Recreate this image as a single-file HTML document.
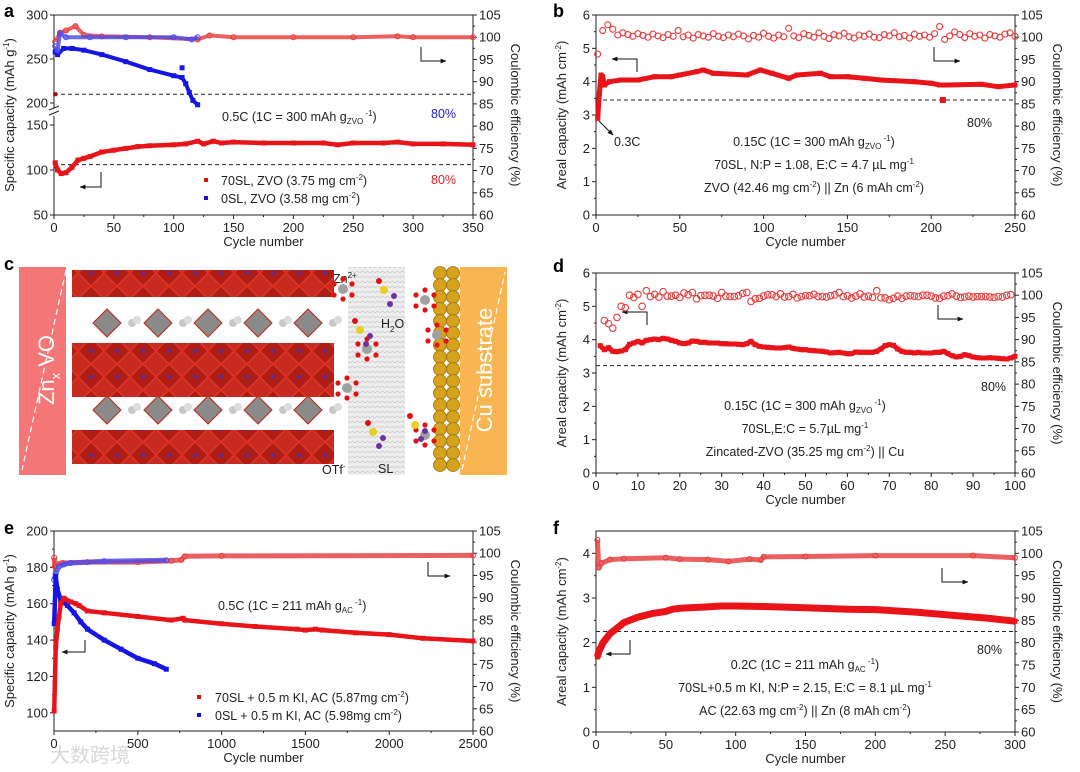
<!DOCTYPE html>
<html><head><meta charset="utf-8"><style>
html,body{margin:0;padding:0;background:#fff}
svg{display:block;font-family:"Liberation Sans","Noto Sans CJK SC",sans-serif}
.ann{font-size:12.5px;fill:#222}
.sm{font-size:8px}
.pl{font-size:18px;font-weight:bold;fill:#000}
</style></head><body>
<svg id="fig" width="1080" height="772" viewBox="0 0 1080 772">
<defs>
<marker id="ah" viewBox="0 0 10 10" refX="9" refY="5" markerWidth="6" markerHeight="6" orient="auto"><path d="M0,1 L10,5 L0,9z" fill="#111"/></marker>
<pattern id="oct" width="26" height="26" patternUnits="userSpaceOnUse"><rect width="26" height="26" fill="#c92a1f"/><polygon points="13,0 26,13 13,26 0,13" fill="#b01d14" stroke="#e04030" stroke-width="1"/><circle cx="13" cy="13" r="2.5" fill="#6a2a7a"/><circle cx="13" cy="0" r="2" fill="#f02010"/><circle cx="0" cy="13" r="2" fill="#f02010"/></pattern>
<pattern id="wav" width="10" height="5" patternUnits="userSpaceOnUse"><rect width="10" height="5" fill="#eeeeee"/><path d="M0,3 L2.5,1 L5,3 L7.5,1 L10,3" stroke="#c8c8c8" fill="none" stroke-width="0.7"/></pattern>
</defs>

<text class="pl" x="4" y="17">a</text>
<text class="pl" x="553" y="17">b</text>
<text class="pl" x="4" y="270">c</text>
<text class="pl" x="553" y="272">d</text>
<text class="pl" x="4" y="534">e</text>
<text class="pl" x="553" y="534">f</text>

<g id="pc">
<rect x="19" y="267" width="47" height="208" fill="#f47676"/>
<path d="M66,270 L22,470" stroke="#fff" stroke-width="1.2" stroke-dasharray="6,4" fill="none"/>
<text transform="translate(54,370) rotate(-90)" text-anchor="middle" fill="#fff" font-size="22">Zn<tspan font-size="13" dy="6">x</tspan><tspan dy="-6"> VO</tspan></text>
<rect x="72" y="270" width="262" height="27" fill="url(#oct)"/>
<rect x="72" y="343" width="262" height="54" fill="url(#oct)"/>
<rect x="72" y="430" width="262" height="34" fill="url(#oct)"/>
<rect x="348" y="267" width="57" height="208" fill="url(#wav)"/>
<rect x="460" y="267" width="47" height="208" fill="#f8b552"/>
<path d="M462,470 L505,272" stroke="#fff" stroke-width="1.2" stroke-dasharray="6,4" fill="none"/>
<text transform="translate(492,370) rotate(-90)" text-anchor="middle" fill="#fff" font-size="22">Cu substrate</text>
<text x="333" y="283" class="ann">Zn<tspan class="sm" dy="-5">2+</tspan></text>
<text x="381" y="328" class="ann">H<tspan class="sm" dy="4">2</tspan><tspan dy="-4">O</tspan></text>
<text x="322" y="474" class="ann">OTf<tspan class="sm" dy="-5">-</tspan></text>
<text x="378" y="473" class="ann">SL</text>
</g>

<text x="222" y="121" class="ann">0.5C (1C = 300 mAh g<tspan class="sm" dy="3">ZVO</tspan><tspan class="sm" dy="-8"> -1</tspan><tspan dy="5">)</tspan></text>
<text x="431" y="118" class="ann" style="fill:#2020d0">80%</text>
<text x="431" y="184" class="ann" style="fill:#e02020">80%</text>
<rect x="204" y="178" width="4" height="4" fill="#e01010"/>
<text x="221" y="185" class="ann">70SL, ZVO (3.75 mg cm<tspan class="sm" dy="-5">-2</tspan><tspan dy="5">)</tspan></text>
<rect x="204" y="196" width="4" height="4" fill="#1010e0"/>
<text x="221" y="203" class="ann">0SL, ZVO (3.58 mg cm<tspan class="sm" dy="-5">-2</tspan><tspan dy="5">)</tspan></text>
<path d="M101,172 V187 H80" stroke="#111" fill="none" marker-end="url(#ah)"/>
<path d="M421,47 V61 H446" stroke="#111" fill="none" marker-end="url(#ah)"/>

<text x="814" y="146" text-anchor="middle" class="ann">0.15C (1C = 300 mAh g<tspan class="sm" dy="3">ZVO</tspan><tspan class="sm" dy="-8"> -1</tspan><tspan dy="5">)</tspan></text>
<text x="814" y="169" text-anchor="middle" class="ann">70SL, N:P = 1.08, E:C = 4.7 µL mg<tspan class="sm" dy="-5">-1</tspan></text>
<text x="814" y="192" text-anchor="middle" class="ann">ZVO (42.46 mg cm<tspan class="sm" dy="-5">-2</tspan><tspan dy="5">) || Zn (6 mAh cm</tspan><tspan class="sm" dy="-5">-2</tspan><tspan dy="5">)</tspan></text>
<text x="614" y="146" class="ann">0.3C</text>
<text x="967" y="127" class="ann">80%</text>
<path d="M599,121 L613,135" stroke="#111" marker-end="url(#ah)"/>
<path d="M637,72 V59 H612" stroke="#111" fill="none" marker-end="url(#ah)"/>
<path d="M934,47 V61 H960" stroke="#111" fill="none" marker-end="url(#ah)"/>

<text x="805" y="410" text-anchor="middle" class="ann">0.15C (1C = 300 mAh g<tspan class="sm" dy="3">ZVO</tspan><tspan class="sm" dy="-8"> -1</tspan><tspan dy="5">)</tspan></text>
<text x="805" y="433" text-anchor="middle" class="ann">70SL,E:C = 5.7µL mg<tspan class="sm" dy="-5">-1</tspan></text>
<text x="805" y="456" text-anchor="middle" class="ann">Zincated-ZVO (35.25 mg cm<tspan class="sm" dy="-5">-2</tspan><tspan dy="5">) || Cu</tspan></text>
<text x="981" y="391" class="ann">80%</text>
<path d="M647,325 V312 H622" stroke="#111" fill="none" marker-end="url(#ah)"/>
<path d="M938,305 V319 H963" stroke="#111" fill="none" marker-end="url(#ah)"/>

<text x="218" y="610" class="ann">0.5C (1C = 211 mAh g<tspan class="sm" dy="3">AC</tspan><tspan class="sm" dy="-8"> -1</tspan><tspan dy="5">)</tspan></text>
<rect x="197" y="695" width="4" height="4" fill="#e01010"/>
<text x="215" y="702" class="ann">70SL + 0.5 m KI, AC (5.87mg cm<tspan class="sm" dy="-5">-2</tspan><tspan dy="5">)</tspan></text>
<rect x="197" y="713" width="4" height="4" fill="#1010e0"/>
<text x="215" y="720" class="ann">0SL + 0.5 m KI, AC (5.98mg cm<tspan class="sm" dy="-5">-2</tspan><tspan dy="5">)</tspan></text>
<path d="M85,640 V652 H62" stroke="#111" fill="none" marker-end="url(#ah)"/>
<path d="M428,562 V576 H450" stroke="#111" fill="none" marker-end="url(#ah)"/>
<text x="50" y="762" font-size="20" fill="#d8d8d8">大数跨境</text>

<text x="805" y="669" text-anchor="middle" class="ann">0.2C (1C = 211 mAh g<tspan class="sm" dy="3">AC</tspan><tspan class="sm" dy="-8"> -1</tspan><tspan dy="5">)</tspan></text>
<text x="805" y="692" text-anchor="middle" class="ann">70SL+0.5 m KI, N:P = 2.15, E:C = 8.1 µL mg<tspan class="sm" dy="-5">-1</tspan></text>
<text x="805" y="715" text-anchor="middle" class="ann">AC (22.63 mg cm<tspan class="sm" dy="-5">-2</tspan><tspan dy="5">) || Zn (8 mAh cm</tspan><tspan class="sm" dy="-5">-2</tspan><tspan dy="5">)</tspan></text>
<text x="977" y="654" class="ann">80%</text>
<path d="M630,640 V654 H606" stroke="#111" fill="none" marker-end="url(#ah)"/>
<path d="M942,568 V582 H968" stroke="#111" fill="none" marker-end="url(#ah)"/>
</svg>
<script>
// ---------- data ----------
const aXTicks=[0,50,100,150,200,250,300,350];
const aYTicks=[50,100,150,200,250,300];
const ceTicks=[60,65,70,75,80,85,90,95,100,105];
const aRedCapX=[1,3,6,10,15,20,25,30,40,50,60,70,80,100,110,120,125,133,140,150,175,200,225,237,250,275,287,300,325,350];
const aRedCapY=[108,100,96,97,103,111,113,115,120,122,124,126,127,128,129,132,129,132,130,131,130,130,130,128,130,130,131,129,129,128];
const aBlueCapX=[1,3,8,15,25,40,60,80,100,107,110,113,116,120];
const aBlueCapY=[258,255,262,262,260,255,247,238,231,229,222,212,203,198];
const aRedCEX=[1,5,10,18,25,40,80,120,130,150,200,250,287,300,350];
const aRedCEY=[99,101,101.5,102.5,100.5,100.2,100,99.5,100.4,100,100,100,100.2,100,100];
const aBlueCEX=[1,3,5,10,30,60,100,115,120];
const aBlueCEY=[98,97,100.8,100,100,100,100,99.5,100];

const bXTicks=[0,50,100,150,200,250];
const bYTicks=[0,1,2,3,4,5,6];
const bCapX=[1,2,3,4,5,8,15,25,35,45,50,60,64,70,90,98,105,115,120,134,140,150,160,170,190,200,205,210,230,240,250];
const bCapY=[2.9,3.65,4.2,4.15,3.9,4.0,4.05,4.05,4.15,4.15,4.2,4.3,4.35,4.25,4.2,4.35,4.25,4.1,4.2,4.25,4.15,4.15,4.1,4.05,4.0,3.95,3.9,3.9,3.92,3.85,3.9];
const bCE=[96.2,101.5,102.8,101.8,100.5,101.0,100.6,100.2,100.8,100.4,100.0,100.7,100.3,99.9,100.6,100.2,101.5,100.1,100.5,99.8,100.6,100.3,100.0,100.8,100.2,99.9,100.5,100.1,100.7,100.3,99.6,100.4,100.0,100.9,100.2,99.8,100.5,100.1,102.0,100.3,99.9,100.8,100.4,100.0,101.0,100.2,99.7,100.6,100.3,100.9,100.1,99.8,100.5,100.2,100.7,100.0,99.9,100.6,100.3,101.0,100.1,100.4,99.8,100.7,100.2,100.5,100.0,100.8,102.4,99.5,100.3,101.2,100.6,99.9,100.8,100.2,100.5,99.8,100.6,100.3,100.0,100.7,101.0,100.2];

const dXTicks=[0,10,20,30,40,50,60,70,80,90,100];
const dCap=[3.82,3.70,3.76,3.65,3.64,3.66,3.70,3.86,3.90,3.95,3.90,3.98,4.00,4.02,4.00,4.04,4.02,3.98,3.95,3.90,3.88,3.90,3.96,3.95,3.92,3.92,3.90,3.90,3.90,3.88,3.88,3.87,3.87,3.86,3.85,3.88,3.95,3.85,3.80,3.78,3.77,3.76,3.75,3.75,3.76,3.78,3.74,3.72,3.70,3.70,3.68,3.67,3.66,3.65,3.63,3.60,3.61,3.62,3.60,3.58,3.58,3.63,3.62,3.62,3.62,3.62,3.65,3.72,3.82,3.85,3.83,3.72,3.65,3.62,3.62,3.60,3.62,3.60,3.60,3.60,3.62,3.62,3.65,3.58,3.52,3.48,3.50,3.55,3.52,3.48,3.46,3.45,3.45,3.46,3.45,3.44,3.43,3.42,3.45,3.50];
const dCE=[94.3,93.6,92.6,95.0,97.5,97.2,100.0,99.5,100.2,97.5,101.0,99.7,100.2,99.6,100.8,99.8,99.8,100.0,99.5,100.5,100.1,100.6,99.2,99.9,100.0,100.0,99.8,99.3,100.6,99.8,99.7,99.7,99.9,100.4,100.6,98.6,99.2,99.3,99.8,100.1,100.1,99.7,100.3,99.6,99.7,100.2,99.4,99.7,99.9,99.9,100.2,99.7,99.7,99.6,99.9,100.1,100.6,99.7,99.9,99.4,99.8,100.3,99.6,99.8,99.5,101.0,99.4,99.4,99.0,99.3,99.8,99.3,99.8,99.9,99.8,99.7,100.0,100.0,99.8,99.4,99.3,99.8,99.9,100.3,99.8,99.5,99.6,99.8,99.6,99.7,99.7,99.7,99.6,99.5,99.7,99.6,100.0,100.1];

const eXTicks=[0,500,1000,1500,2000,2500];
const eYTicks=[100,120,140,160,180,200];
const eRedCapX=[1,10,20,30,40,60,100,130,150,200,300,500,700,770,780,1000,1200,1450,1500,1560,1600,1800,2000,2200,2500];
const eRedCapY=[101,136,146,153,160,163,161,160,159,156,155,153,151,152,151,149,147.5,146,145.5,146,145.5,144,143,141,139.5];
const eBlueCapX=[1,10,20,40,80,120,160,200,300,400,500,600,670];
const eBlueCapY=[149,175,168,162,159,155,150,146,140,135,130,127,124];
const eRedCEX=[1,5,10,50,200,500,700,760,780,1000,2500];
const eRedCEY=[99,97,97.5,97.8,98,98,98.3,98.5,99.3,99.4,99.5];
const eBlueCEX=[1,10,30,60,100,300,670];
const eBlueCEY=[94,95.5,97,97.5,97.8,98.2,98.4];

const fXTicks=[0,50,100,150,200,250,300];
const fYTicks=[0,1,2,3,4];
const fCapX=[1,2,5,10,20,30,40,50,55,60,80,90,100,120,150,180,200,230,260,280,300];
const fCapY=[1.68,1.8,2.0,2.2,2.45,2.57,2.65,2.7,2.75,2.77,2.8,2.82,2.82,2.81,2.78,2.75,2.74,2.68,2.6,2.55,2.48];
const fCEX=[1,2,4,10,20,50,60,80,95,110,118,120,150,200,270,300];
const fCEY=[103,96.8,97.8,98.6,98.8,99,98.7,98.6,98.2,98.7,98.5,99.2,99.3,99.5,99.5,99];

// ---------- helpers ----------
const NS='http://www.w3.org/2000/svg';
const svg=document.getElementById('fig');
function mk(tag,attrs,parent){const e=document.createElementNS(NS,tag);for(const k in attrs)e.setAttribute(k,attrs[k]);(parent||svg).appendChild(e);return e;}
function nm(e,name){


return e;}
function lin(d0,d1,r0,r1){return v=>r0+(v-d0)/(d1-d0)*(r1-r0);}

function axes(p){
 const g=nm(mk('g',{}),p.name+'-axes');
 const X=p.X, L=p.L, R=p.R;
 nm(mk('rect',{x:p.x0,y:p.y0,width:p.x1-p.x0,height:p.y1-p.y0,fill:'none',stroke:'#222','stroke-width':1},g),p.name+'-frame');
 p.xt.forEach((v,i)=>{
  const x=X(v);
  nm(mk('line',{x1:x,x2:x,y1:p.y1,y2:p.y1+4,stroke:'#222'},g),p.name+'-x-tick');
  const t=nm(mk('text',{x:x,y:p.y1+17,'text-anchor':'middle','font-size':13,fill:'#222'},g),p.name+'-x-tick-label');
  t.textContent=v;
  if(i<p.xt.length-1){const m=X((v+p.xt[i+1])/2);nm(mk('line',{x1:m,x2:m,y1:p.y1,y2:p.y1+2,stroke:'#222'},g),p.name+'-x-minor');}
 });
 p.lt.forEach((v,i)=>{
  const y=L(v);
  nm(mk('line',{x1:p.x0-4,x2:p.x0,y1:y,y2:y,stroke:'#222'},g),p.name+'-y-tick');
  const t=nm(mk('text',{x:p.x0-6,y:y+4.5,'text-anchor':'end','font-size':13,fill:'#222'},g),p.name+'-y-tick-label');
  t.textContent=v;
  if(i<p.lt.length-1 && !p.noMinor){const m=L((v+p.lt[i+1])/2);nm(mk('line',{x1:p.x0-2,x2:p.x0,y1:m,y2:m,stroke:'#222'},g),p.name+'-y-minor');}
 });
 ceTicks.forEach((v,i)=>{
  const y=R(v);
  nm(mk('line',{x1:p.x1,x2:p.x1+4,y1:y,y2:y,stroke:'#222'},g),p.name+'-r-tick');
  const t=nm(mk('text',{x:p.x1+6,y:y+4.5,'font-size':13,fill:'#222'},g),p.name+'-r-tick-label');
  t.textContent=v;
  if(i<ceTicks.length-1){const m=R(v+2.5);nm(mk('line',{x1:p.x1,x2:p.x1+2,y1:m,y2:m,stroke:'#222'},g),p.name+'-r-minor');}
 });
 const xt=nm(mk('text',{x:(p.x0+p.x1)/2,y:p.y1+31,'text-anchor':'middle','font-size':13,fill:'#222'},g),p.name+'-x-axis-title');
 xt.textContent='Cycle number';
 const yc=(p.y0+p.y1)/2;
 const yl=nm(mk('text',{transform:`translate(${p.x0-p.ylOff},${yc}) rotate(-90)`,'text-anchor':'middle','font-size':13,fill:'#222'},g),p.name+'-y-axis-title');
 yl.innerHTML=p.ylab;
 const rl=nm(mk('text',{transform:`translate(${p.x1+38},${yc}) rotate(90)`,'text-anchor':'middle','font-size':13,fill:'#222'},g),p.name+'-right-axis-title');
 rl.textContent='Coulombic efficiency (%)';
 return g;
}
function capLine(p,xs,ys,scale,color,name,w){
 const g=nm(mk('g',{}),name);
 const pts=xs.map((x,i)=>p.X(x).toFixed(1)+','+scale(ys[i]).toFixed(1)).join(' ');
 nm(mk('polyline',{points:pts,fill:'none',stroke:color,'stroke-width':w||4,'stroke-linejoin':'round'},g),name+'-line');
 xs.forEach((x,i)=>{nm(mk('rect',{x:p.X(x)-2.5,y:scale(ys[i])-2.5,width:5,height:5,fill:color},g),name+'-point');});
 return g;
}
function ceLine(p,xs,ys,color,name,w){
 const g=nm(mk('g',{}),name);
 const pts=xs.map((x,i)=>p.X(x).toFixed(1)+','+p.R(ys[i]).toFixed(1)).join(' ');
 nm(mk('polyline',{points:pts,fill:'none',stroke:color,'stroke-width':w||5,'stroke-linejoin':'round','stroke-opacity':0.8},g),name+'-line');
 xs.forEach((x,i)=>{nm(mk('circle',{cx:p.X(x),cy:p.R(ys[i]),r:2.5,fill:'none',stroke:color,'stroke-width':1},g),name+'-point');});
 return g;
}
function ceDots(p,xs,ys,color,name,r){
 const g=nm(mk('g',{}),name);
 xs.forEach((x,i)=>{ if(x<=p.xmax) nm(mk('circle',{cx:p.X(x),cy:p.R(ys[i]),r:r||3,fill:'none',stroke:color,'stroke-width':1.1},g),name+'-point');});
 return g;
}
function hdash(p,y,name){nm(mk('line',{x1:p.x0,x2:p.x1,y1:y,y2:y,stroke:'#222','stroke-dasharray':'4,3'}),name);}
const RED='#e8141a', BLUE='#1515e6', OPENRED='#e63a3a';

// ---------- panel a ----------
const pa={name:'panel-a',x0:54,x1:473,y0:15,y1:215,xmax:350,xt:aXTicks,lt:aYTicks,ylOff:40,noMinor:true,
 ylab:'Specific capacity (mAh g<tspan font-size="8" dy="-5">-1</tspan><tspan dy="5">)</tspan>'};
pa.X=lin(0,350,54,473);
pa.L=v=>v>=175?103-(v-200)*0.88:170-(v-100)*0.9;
pa.R=lin(60,105,215,15);
axes(pa);
nm(mk('rect',{x:49,y:108,width:10,height:8,fill:'#fff'}),'a-axis-break-gap');
nm(mk('path',{d:'M49,110 L59,106 M49,115 L59,111',stroke:'#222',fill:'none'}),'a-axis-break-mark');
hdash(pa,pa.L(210),'a-80-line-blue');
hdash(pa,pa.L(106),'a-80-line-red');
capLine(pa,aBlueCapX,aBlueCapY,pa.L,BLUE,'a-0sl-capacity',4);
nm(mk('rect',{x:pa.X(107)-2.5,y:pa.L(240)-2.5,width:5,height:5,fill:BLUE}),'a-0sl-outlier');
nm(mk('rect',{x:pa.X(1)-2,y:pa.L(210)-2,width:4,height:4,fill:'#a01010'}),'a-70sl-first-point');
capLine(pa,aRedCapX,aRedCapY,pa.L,RED,'a-70sl-capacity',4.5);
ceLine(pa,aRedCEX,aRedCEY,OPENRED,'a-70sl-ce',4);
ceLine(pa,aBlueCEX,aBlueCEY,'#4a4af0','a-0sl-ce',4);

// ---------- panel b ----------
const pb={name:'panel-b',x0:596,x1:1015,y0:15,y1:215,xmax:250,xt:bXTicks,lt:bYTicks,ylOff:30,
 ylab:'Areal capacity (mAh cm<tspan font-size="8" dy="-5">-2</tspan><tspan dy="5">)</tspan>'};
pb.X=lin(0,250,596,1015);pb.L=lin(0,6,215,15);pb.R=lin(60,105,215,15);
axes(pb);
hdash(pb,pb.L(3.45),'b-80-line');
capLine(pb,bCapX,bCapY,pb.L,RED,'b-capacity',5);
nm(mk('rect',{x:pb.X(207)-3,y:pb.L(3.45)-3,width:6,height:6,fill:RED}),'b-capacity-outlier');
ceDots(pb,bCE.map((_,i)=>1+3*i),bCE,OPENRED,'b-ce',3);

// ---------- panel d ----------
const pd={name:'panel-d',x0:596,x1:1015,y0:273,y1:473,xmax:100,xt:dXTicks,lt:bYTicks,ylOff:30,
 ylab:'Areal capacity (mAh cm<tspan font-size="8" dy="-5">-2</tspan><tspan dy="5">)</tspan>'};
pd.X=lin(0,100,596,1015);pd.L=lin(0,6,473,273);pd.R=lin(60,105,473,273);
axes(pd);
hdash(pd,pd.L(3.22),'d-80-line');
capLine(pd,dCap.map((_,i)=>i+1),dCap,pd.L,RED,'d-capacity',5);
ceDots(pd,dCE.map((_,i)=>i+2),dCE,OPENRED,'d-ce',3.3);

// ---------- panel e ----------
const pe={name:'panel-e',x0:54,x1:473,y0:531,y1:731,xmax:2500,xt:eXTicks,lt:eYTicks,ylOff:40,
 ylab:'Specific capacity (mAh g<tspan font-size="8" dy="-5">-1</tspan><tspan dy="5">)</tspan>'};
pe.X=lin(0,2500,54,473);pe.L=lin(90,200,731,531);pe.R=lin(60,105,731,531);
axes(pe);
ceLine(pe,eRedCEX,eRedCEY,OPENRED,'e-70sl-ce',5);
ceLine(pe,eBlueCEX,eBlueCEY,'#4a4af0','e-0sl-ce',5);
capLine(pe,eBlueCapX,eBlueCapY,pe.L,BLUE,'e-0sl-capacity',4.5);
capLine(pe,eRedCapX,eRedCapY,pe.L,RED,'e-70sl-capacity',4.5);

// ---------- panel f ----------
const pf={name:'panel-f',x0:596,x1:1015,y0:531,y1:732,xmax:300,xt:fXTicks,lt:fYTicks,ylOff:30,
 ylab:'Areal capacity (mAh cm<tspan font-size="8" dy="-5">-2</tspan><tspan dy="5">)</tspan>'};
pf.X=lin(0,300,596,1015);pf.L=lin(0,4.5,732,531);pf.R=lin(60,105,732,531);
axes(pf);
hdash(pf,pf.L(2.25),'f-80-line');
capLine(pf,fCapX,fCapY,pf.L,RED,'f-capacity',7);
ceLine(pf,fCEX,fCEY,OPENRED,'f-ce',5);

// ---------- panel c decorations ----------
const pc=document.getElementById('pc');
[107,158,208,258,308].forEach(cx=>{
 [323,410].forEach(cy=>{
  nm(mk('polygon',{points:`${cx},${cy-14} ${cx+14},${cy} ${cx},${cy+14} ${cx-14},${cy}`,fill:'#8a8a88',stroke:'#c02818','stroke-width':1},pc),'zn-polyhedron');
  nm(mk('circle',{cx:cx+25,cy:cy,r:4,fill:'#c8c8c8'},pc),'zn-atom');
  nm(mk('circle',{cx:cx+30,cy:cy-3,r:4,fill:'#dcdcdc'},pc),'zn-atom');
 });
});
for(let y=273;y<=470;y+=12){
 nm(mk('circle',{cx:440,cy:y,r:6.5,fill:'#d6a21c',stroke:'#9a7010','stroke-width':0.8},pc),'cu-atom');
 nm(mk('circle',{cx:453,cy:y,r:6.5,fill:'#d6a21c',stroke:'#9a7010','stroke-width':0.8},pc),'cu-atom');
}
[[343,289],[425,300],[367,349],[347,388],[437,335],[425,435]].forEach(([x,y])=>{
 nm(mk('circle',{cx:x,cy:y,r:5,fill:'#a0a0a0'},pc),'solvated-zn');
 [[-9,-5],[9,-5],[-9,6],[9,6],[0,-10],[0,10]].forEach(([dx,dy])=>nm(mk('circle',{cx:x+dx,cy:y+dy,r:2.6,fill:'#e21010'},pc),'water-molecule'));
});
[[384,290],[360,330],[415,425],[373,432]].forEach(([x,y])=>{
 nm(mk('circle',{cx:x,cy:y,r:4,fill:'#e8d020'},pc),'sulfur-atom');
 nm(mk('circle',{cx:x+10,cy:y+6,r:3,fill:'#7030a0'},pc),'carbon-atom');
 nm(mk('circle',{cx:x+6,cy:y+14,r:3,fill:'#7030a0'},pc),'carbon-atom');
 nm(mk('circle',{cx:x-5,cy:y-9,r:3,fill:'#e21010'},pc),'oxygen-atom');
});
</script>
</body></html>
